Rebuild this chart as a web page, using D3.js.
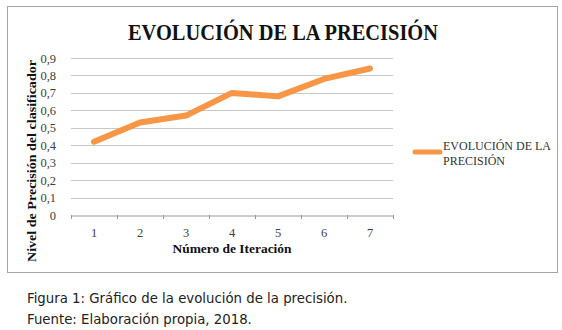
<!DOCTYPE html>
<html>
<head>
<meta charset="utf-8">
<script src="https://cdn.jsdelivr.net/npm/d3@7"></script>
<style>
  body { margin: 0; background: #fff; }
  svg { display: block; }
</style>
</head>
<body>
<div id="chart"></div>
<script>
// datos
const iterations = ["1", "2", "3", "4", "5", "6", "7"];
const precision = [0.42, 0.53, 0.57, 0.70, 0.68, 0.78, 0.84];
const yTicks = [0, 0.1, 0.2, 0.3, 0.4, 0.5, 0.6, 0.7, 0.8, 0.9];
const seriesName = ["EVOLUCIÓN DE LA", "PRECISIÓN"];
const chartTitle = "EVOLUCIÓN DE LA PRECISIÓN";
const yTitle = "Nivel de Precisión del clasificador";
const xTitle = "Número de Iteración";
const captionLines = ["Figura 1: Gráfico de la evolución de la precisión.", "Fuente: Elaboración propia, 2018."];

const width = 562, height = 330;
const plot = { left: 71, right: 393, top: 58, bottom: 215 };
const orange = "#f79646";
const serif = "'Liberation Serif', 'DejaVu Serif', serif";

const svg = d3.select("#chart").append("svg")
  .attr("width", width).attr("height", height);

// marco del gráfico
svg.append("rect")
  .attr("x", 7.5).attr("y", 6.5)
  .attr("width", 550).attr("height", 266)
  .attr("fill", "#fff").attr("stroke", "#a6a6a6").attr("stroke-width", 1);

const x = d3.scaleBand().domain(iterations).range([plot.left, plot.right]);
const y = d3.scaleLinear().domain([0, 0.9]).range([plot.bottom, plot.top]);

// líneas de cuadrícula
svg.append("g")
  .selectAll("line")
  .data(yTicks.filter(d => d > 0))
  .join("line")
    .attr("x1", plot.left).attr("x2", plot.right)
    .attr("y1", d => Math.round(y(d)) + 0.5).attr("y2", d => Math.round(y(d)) + 0.5)
    .attr("stroke", "#c8c8c8").attr("stroke-width", 1);

// eje Y
const yAxis = svg.append("g")
  .attr("transform", `translate(${plot.left},0)`)
  .call(d3.axisLeft(y).tickValues(yTicks).tickSize(0).tickPadding(15)
    .tickFormat(d => d === 0 ? "0" : d3.format(".1f")(d).replace(".", ",")));
yAxis.select(".domain").remove();
yAxis.selectAll("text")
  .attr("font-family", serif).attr("font-size", 12.5).attr("fill", "#404040");

// eje X
const xAxis = svg.append("g")
  .attr("transform", `translate(0,${plot.bottom + 0.5})`)
  .call(d3.axisBottom(x).tickSize(0).tickPadding(13));
xAxis.select(".domain").attr("stroke", "#9a9a9a");
xAxis.selectAll("text")
  .attr("font-family", serif).attr("font-size", 12.5).attr("fill", "#404040");
// marcas entre categorías
svg.append("g")
  .selectAll("line")
  .data(iterations.concat(["end"]))
  .join("line")
    .attr("x1", (d, i) => Math.round(plot.left + i * x.bandwidth()) + 0.5)
    .attr("x2", (d, i) => Math.round(plot.left + i * x.bandwidth()) + 0.5)
    .attr("y1", plot.bottom).attr("y2", plot.bottom + 4)
    .attr("stroke", "#9a9a9a");

// serie
const line = d3.line()
  .x((d, i) => x(iterations[i]) + x.bandwidth() / 2)
  .y(d => y(d));
svg.append("path")
  .datum(precision)
  .attr("d", line)
  .attr("fill", "none")
  .attr("stroke", orange).attr("stroke-width", 6)
  .attr("stroke-linejoin", "round").attr("stroke-linecap", "round");

// título
svg.append("text")
  .attr("x", 283).attr("y", 40)
  .attr("text-anchor", "middle")
  .attr("font-family", serif).attr("font-weight", "bold").attr("font-size", 24)
  .attr("textLength", 310).attr("lengthAdjust", "spacingAndGlyphs")
  .attr("fill", "#111")
  .text(chartTitle);

// títulos de ejes
svg.append("text")
  .attr("transform", "translate(36,161) rotate(-90)")
  .attr("text-anchor", "middle")
  .attr("font-family", serif).attr("font-weight", "bold").attr("font-size", 13.5)
  .attr("textLength", 202).attr("lengthAdjust", "spacingAndGlyphs")
  .attr("fill", "#111")
  .text(yTitle);
svg.append("text")
  .attr("x", 232).attr("y", 253)
  .attr("text-anchor", "middle")
  .attr("font-family", serif).attr("font-weight", "bold").attr("font-size", 13)
  .attr("textLength", 119).attr("lengthAdjust", "spacingAndGlyphs")
  .attr("fill", "#111")
  .text(xTitle);

// leyenda
const legend = svg.append("g").attr("transform", "translate(415,152)");
legend.append("line")
  .attr("x1", 0).attr("x2", 25)
  .attr("stroke", orange).attr("stroke-width", 5).attr("stroke-linecap", "round");
legend.selectAll("text")
  .data(seriesName)
  .join("text")
    .attr("x", 28).attr("y", (d, i) => -2 + i * 15)
    .attr("font-family", serif).attr("font-size", 12).attr("fill", "#333")
    .text(d => d);

// pie de figura
svg.append("g")
  .selectAll("text")
  .data(captionLines)
  .join("text")
    .attr("x", 27).attr("y", (d, i) => 303 + i * 21)
    .attr("font-family", "'DejaVu Sans', sans-serif").attr("font-size", 13.3)
    .attr("fill", "#222")
    .text(d => d);
</script>
</body>
</html>
